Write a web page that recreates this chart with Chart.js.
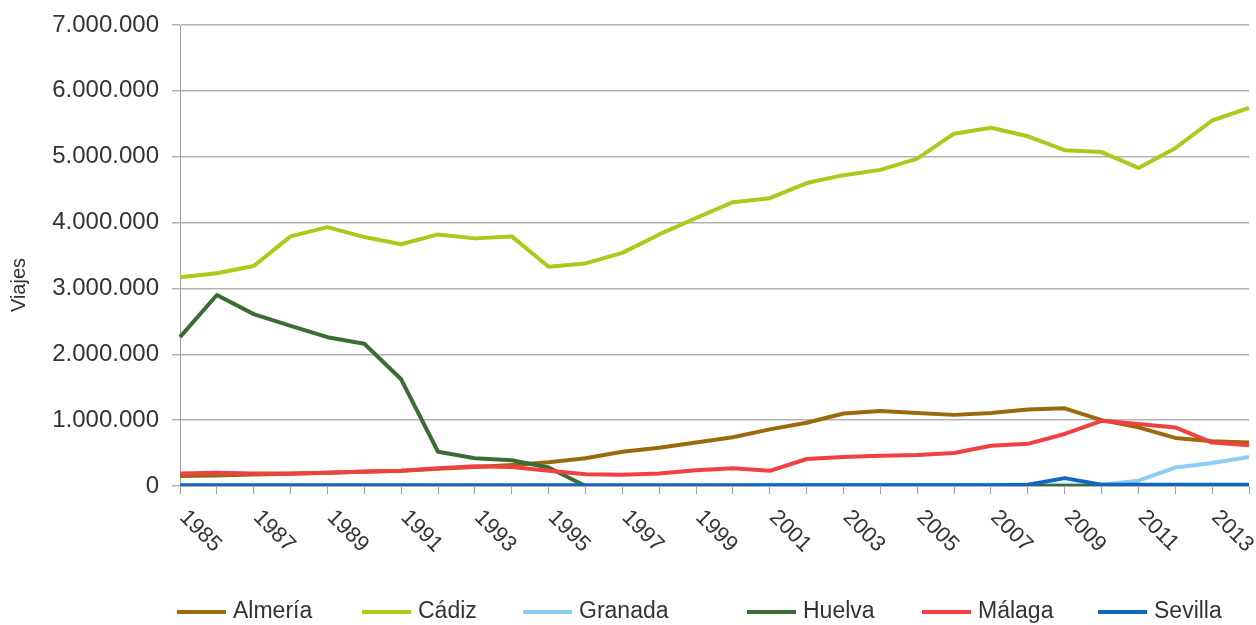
<!DOCTYPE html>
<html>
<head>
<meta charset="utf-8">
<script src="https://cdn.jsdelivr.net/npm/chart.js@4/dist/chart.umd.min.js"></script>
<style>
html,body{margin:0;padding:0;background:#fff;}
canvas{display:block;}
</style>
</head>
<body>
<canvas id="c" width="1256" height="625"></canvas>
<script>
const years = ['1985','1986','1987','1988','1989','1990','1991','1992','1993','1994','1995','1996','1997','1998','1999','2000','2001','2002','2003','2004','2005','2006','2007','2008','2009','2010','2011','2012','2013','2014'];
const tickYears = ['1985','1987','1989','1991','1993','1995','1997','1999','2001','2003','2005','2007','2009','2011','2013'];
const yTicks = [0,1000000,2000000,3000000,4000000,5000000,6000000,7000000];
const seriesNames = ['Almería','Cádiz','Granada','Huelva','Málaga','Sevilla'];

const almeria = [150000,160000,175000,185000,200000,215000,230000,260000,290000,320000,360000,420000,520000,580000,660000,740000,860000,960000,1100000,1140000,1110000,1080000,1110000,1160000,1180000,1000000,890000,730000,680000,660000];
const cadiz   = [3170000,3230000,3340000,3790000,3930000,3780000,3670000,3820000,3760000,3790000,3330000,3380000,3540000,3820000,4070000,4310000,4370000,4600000,4720000,4800000,4970000,5350000,5440000,5310000,5100000,5070000,4830000,5130000,5550000,5740000];
const granada = [0,0,0,0,0,0,0,0,0,0,0,0,0,0,0,0,20000,20000,20000,20000,20000,20000,20000,20000,20000,20000,80000,280000,350000,440000];
const huelva  = [2260000,2900000,2610000,2430000,2260000,2160000,1620000,520000,420000,390000,280000,0,0,0,0,0,0,0,0,0,0,0,0,0,0,0,0,0,0,0];
const malaga  = [190000,200000,190000,190000,200000,220000,230000,270000,300000,290000,230000,180000,170000,190000,240000,270000,230000,410000,440000,460000,470000,500000,610000,640000,790000,990000,940000,890000,660000,620000];
const sevilla = [10000,10000,10000,10000,10000,10000,10000,10000,10000,10000,10000,10000,10000,10000,10000,10000,10000,10000,10000,10000,10000,10000,10000,20000,120000,20000,20000,20000,20000,20000];

const colors = ['#9a6b0c','#a8cb1c','#8ccdf5','#3c6c35','#ef4141','#1166bd'];
const drawOrder = [5,4,3,2,1,0];
const values = [almeria,cadiz,granada,huelva,malaga,sevilla];

const FONT = '"Liberation Sans", Arial, sans-serif';
const TEXT = '#333333';

function fmt(v){ return String(v).replace(/\B(?=(\d{3})+(?!\d))/g,'.'); }

const extras = {
  id:'extras',
  afterDraw(chart){
    const ctx = chart.ctx;
    const xs = chart.scales.x, ys = chart.scales.y;
    ctx.save();
    ctx.fillStyle = TEXT;
    ctx.font = '22px ' + FONT;
    ctx.textAlign = 'left';
    ctx.textBaseline = 'middle';
    tickYears.forEach(t=>{
      const x = xs.getPixelForValue(years.indexOf(t));
      ctx.save();
      ctx.translate(x+3, ys.bottom+28);
      ctx.rotate(Math.PI/4);
      ctx.fillText(t,0,0);
      ctx.restore();
    });
    ctx.save();
    ctx.font = '20px ' + FONT;
    ctx.textAlign = 'center';
    ctx.textBaseline = 'middle';
    ctx.translate(19, 285);
    ctx.rotate(-Math.PI/2);
    ctx.fillText('Viajes',0,0);
    ctx.restore();
    const starts = [177,362,523,747,922,1098];
    const ly = 612;
    ctx.font = '23px ' + FONT;
    ctx.textAlign = 'left';
    ctx.textBaseline = 'middle';
    chart.data.datasets.forEach((ds,i)=>{
      const x0 = starts[i];
      ctx.fillStyle = ds.borderColor;
      ctx.fillRect(x0, ly-2, 49, 4);
      ctx.fillStyle = TEXT;
      ctx.fillText(ds.label, x0+56, ly);
    });
    ctx.restore();
  }
};

new Chart(document.getElementById('c'), {
  type:'line',
  data:{
    labels: years,
    datasets: seriesNames.map((n,i)=>({
      label:n,
      data: values[i],
      borderColor: colors[i],
      backgroundColor: colors[i],
      borderWidth: 4,
      pointRadius: 0,
      tension: 0,
      fill: false,
      order: drawOrder[i],
      borderJoinStyle:'round'
    }))
  },
  options:{
    responsive:false,
    animation:false,
    events:[],
    layout:{padding:{top:25,right:7,left:0,bottom:0}},
    plugins:{legend:{display:false},tooltip:{enabled:false}},
    scales:{
      x:{
        type:'category',
        offset:false,
        grid:{display:true,drawOnChartArea:false,drawTicks:true,tickLength:8,color:'#a0a0a0',lineWidth:1},
        border:{display:true,color:'#b0b0b0',width:1},
        ticks:{display:false,autoSkip:false},
        afterFit(s){ s.height = 625 - 486; }
      },
      y:{
        min:0,max:7000000,
        afterBuildTicks(s){ s.ticks = yTicks.map(v=>({value:v})); },
        grid:{color:'#b3b3b3',lineWidth:1.5,drawTicks:true,tickLength:8},
        border:{display:true,color:'#a0a0a0',width:1},
        ticks:{color:TEXT,font:{family:FONT,size:24,lineHeight:1},padding:13,callback:(v)=>fmt(v)},
        afterFit(s){ s.width = 180; s.paddingTop = 0; s.paddingBottom = 0; }
      }
    }
  },
  plugins:[extras]
});
</script>
</body>
</html>
